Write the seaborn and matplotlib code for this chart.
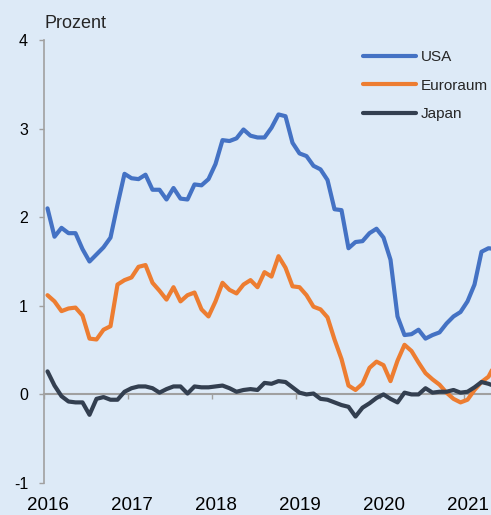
import numpy as np
import pandas as pd
import matplotlib
matplotlib.use("Agg")
import matplotlib.pyplot as plt
import seaborn as sns

# Monthly values, Jan 2016 - May 2021 (Prozent)
usa = [2.10, 1.78, 1.88, 1.82, 1.82, 1.64, 1.50, 1.58, 1.66, 1.77, 2.14, 2.49,
       2.44, 2.43, 2.48, 2.31, 2.31, 2.20, 2.33, 2.21, 2.20, 2.37, 2.36, 2.43,
       2.60, 2.87, 2.86, 2.89, 2.99, 2.92, 2.90, 2.90, 3.01, 3.16, 3.14, 2.84,
       2.72, 2.69, 2.58, 2.54, 2.42, 2.09, 2.08, 1.65, 1.72, 1.73, 1.82, 1.87,
       1.77, 1.52, 0.88, 0.67, 0.68, 0.73, 0.63, 0.67, 0.70, 0.80, 0.88, 0.93,
       1.05, 1.24, 1.61, 1.65, 1.64]
euroraum = [1.12, 1.05, 0.94, 0.97, 0.98, 0.89, 0.63, 0.62, 0.73, 0.77, 1.24, 1.29,
            1.32, 1.44, 1.46, 1.26, 1.17, 1.07, 1.21, 1.05, 1.12, 1.15, 0.96, 0.88,
            1.05, 1.26, 1.18, 1.14, 1.24, 1.29, 1.21, 1.38, 1.33, 1.56, 1.43, 1.22,
            1.21, 1.12, 0.99, 0.96, 0.87, 0.62, 0.40, 0.10, 0.05, 0.12, 0.30, 0.37,
            0.33, 0.15, 0.38, 0.56, 0.49, 0.36, 0.24, 0.17, 0.11, 0.02, -0.05, -0.09,
            -0.06, 0.05, 0.14, 0.20, 0.35]
japan = [0.26, 0.10, -0.02, -0.08, -0.09, -0.09, -0.23, -0.05, -0.03, -0.06, -0.06, 0.03,
         0.07, 0.09, 0.09, 0.07, 0.02, 0.06, 0.09, 0.09, 0.01, 0.09, 0.08, 0.08,
         0.09, 0.10, 0.07, 0.03, 0.05, 0.06, 0.05, 0.13, 0.12, 0.15, 0.14, 0.08,
         0.02, 0.00, 0.01, -0.05, -0.06, -0.09, -0.12, -0.14, -0.25, -0.15, -0.10, -0.04,
         0.00, -0.05, -0.09, 0.02, 0.00, 0.00, 0.07, 0.02, 0.03, 0.03, 0.05, 0.02,
         0.03, 0.08, 0.14, 0.12, 0.09]

series_names = ["USA", "Euroraum", "Japan"]
series_colors = ["#4472C4", "#ED7D31", "#333F50"]
years = [2016, 2017, 2018, 2019, 2020, 2021]
year_labels = [str(y) for y in years]
y_ticks = [-1, 0, 1, 2, 3, 4]

# time axis: middle of each month
t = 2016 + (np.arange(len(usa)) + 0.5) / 12

df = pd.DataFrame({"Zeit": np.tile(t, 3),
                   "Wert": usa + euroraum + japan,
                   "Serie": np.repeat(series_names, len(usa))})

sns.set_theme(style="white")
plt.rcParams["font.family"] = ["Liberation Sans", "DejaVu Sans"]

bg = "#DDEAF7"
grey = "#A0A0A0"

fig = plt.figure(figsize=(4.91, 5.15), dpi=100, facecolor=bg)
ax = fig.add_axes([44 / 491, 0.0621, 1 - 44 / 491, 0.8602])
ax.set_facecolor(bg)

for name, col in zip(series_names, series_colors):
    sns.lineplot(data=df[df["Serie"] == name], x="Zeit", y="Wert", color=col,
                 linewidth=3, ax=ax, zorder=3, legend=False,
                 solid_capstyle="round", solid_joinstyle="round")

ax.set_xlim(2016, 2016 + (491 - 44) / 84)
ax.set_ylim(-1, 4)
ax.set_xlabel("")
ax.set_ylabel("")

for s in ["top", "right"]:
    ax.spines[s].set_visible(False)
ax.spines["left"].set_color(grey)
ax.spines["left"].set_linewidth(1.2)
ax.spines["bottom"].set_position(("data", 0))
ax.spines["bottom"].set_color(grey)
ax.spines["bottom"].set_linewidth(1.5)

ax.set_yticks(y_ticks)
ax.set_yticklabels([str(v) for v in y_ticks])
ax.set_xticks(years)
ax.tick_params(axis="y", left=True, direction="out", length=3.5, width=1,
               color=grey, labelsize=11.5, pad=8, labelcolor="black")
ax.tick_params(axis="x", bottom=True, direction="out", length=3.5, width=1,
               color=grey, labelbottom=False)

# year labels at the bottom of the plot
sec = ax.secondary_xaxis("bottom")
sec.spines["bottom"].set_visible(False)
sec.set_xticks([y + 0.5 / 12 for y in years])
sec.set_xticklabels(year_labels)
sec.tick_params(length=0, pad=10, labelsize=13.5, labelcolor="black")

leg = ax.legend(handles=ax.lines[:3], labels=series_names, loc="upper left",
                bbox_to_anchor=(363 / 491, 1 - 50 / 515),
                bbox_transform=fig.transFigure, frameon=False, fontsize=11,
                handlelength=3.45, handletextpad=0.33, labelspacing=0.95,
                borderpad=0, borderaxespad=0)
for line in leg.get_lines():
    line.set_linewidth(3)

fig.text(45 / 491, 1 - 23 / 515, "Prozent", fontsize=13, va="center", ha="left")

fig.savefig("out.png", dpi=100, facecolor=bg)
